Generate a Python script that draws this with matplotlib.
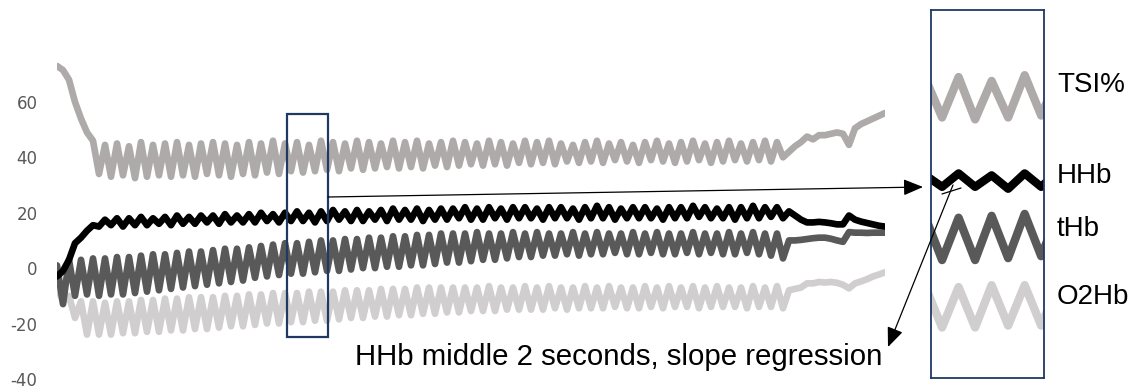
import numpy as np
import matplotlib
matplotlib.use("Agg")
import matplotlib.pyplot as plt
from matplotlib.patches import Rectangle, FancyArrowPatch

plt.rcParams["axes.unicode_minus"] = False

# ---- DATA (one value per half cycle) ----
# TSI%
tsi_head = [73, 71.5, 68, 60, 54, 49, 46]
tsi_troughs = [34, 33, 33.5, 32.5, 33, 33.5, 33, 33.5, 33, 34,
               33.5, 33, 34, 33.5, 34.5, 34, 35, 34.5, 35, 35.5,
               35, 36, 35.5, 36, 36.5, 36, 36.5, 36, 37, 36.5,
               37, 37.5, 37, 37.5, 37, 38, 37.5, 38, 37.5, 38.5,
               38, 38.5, 38, 39, 38.5, 38, 39, 38.5, 38, 38.5,
               39, 38, 38.5, 39, 38.5, 39, 38.5, 40]
tsi_peaks = [44.5, 45, 44, 45.5, 44.5, 45, 45.5, 44.5, 45, 45.5,
             45, 44.5, 45.5, 45, 46, 45, 45.5, 44.5, 46, 45.5,
             45, 46, 45.5, 45, 46, 45.5, 46, 45, 45.5, 46,
             45.5, 45, 46, 45.5, 45, 46, 45.5, 46, 45, 44.5,
             45.5, 46, 45, 45.5, 44.5, 45.5, 46, 45, 45.5, 46,
             45, 45.5, 46, 45, 45.5, 46, 45.5]
tsi_tail = [42, 44, 45.5, 47.5, 46.5, 48, 48, 48.5, 49, 48.5, 44.5, 50.5, 52, 53, 54, 55, 56]

# HHb
hhb_head = [-3, -1, 3, 9, 11, 13.5, 15.5]
hhb_troughs = [15, 15.5, 15, 15.5, 15.5, 16, 15.5, 16, 16, 16.5,
               16, 16.5, 16.5, 16.5, 17, 16.5, 17, 17, 16.5, 17,
               17.5, 17, 17, 17.5, 17, 17.5, 17.5, 17, 17.5, 17.5,
               18, 17.5, 17.5, 18, 17.5, 18, 18, 17.5, 18, 18,
               17.5, 18, 18, 17.5, 18, 18, 18, 17.5, 18, 18,
               18.5, 18, 18, 17.5, 18, 18, 18.5, 18]
hhb_peaks = [17.5, 18, 18, 18.5, 18, 18.5, 19, 18.5, 19, 19,
             19.5, 19, 19.5, 20, 19.5, 20, 20.5, 20, 20.5, 21,
             20.5, 21, 20.5, 21, 21.5, 21, 21.5, 21, 21.5, 21.5,
             22, 21.5, 22, 21.5, 22, 22, 21.5, 22, 22, 21.5,
             22, 22.5, 22, 21.5, 22, 22, 21.5, 22, 22, 22.5,
             22, 21.5, 22, 22, 22.5, 22, 22]
hhb_tail = [20.5, 19, 17.5, 16.5, 16.5, 16.7, 16.5, 16.2, 15.8, 15.8, 19, 17.5, 16.8, 16.3, 15.8, 15.3, 15]

# tHb
thb_head = [1, -13, 3, -10, 3, -9.5, 3.5]
thb_troughs = [-10, -9.5, -9.5, -9, -8.5, -8, -7.5, -7, -6.5, -6,
               -5.5, -5, -4.5, -3.5, -3, -2.5, -2, -2, -1.5, -1,
               -1, -0.5, 0, 0, 0.5, 0.5, 1, 1, 1.5, 2,
               2, 2.5, 3, 3, 3.5, 4, 4, 4.5, 4.5, 5,
               4.5, 5, 5, 5.5, 5, 5, 5.5, 5, 5, 5.5,
               5, 5.5, 5, 5, 5.5, 5, 4.5, 3.5]
thb_peaks = [3.5, 4, 4, 4.5, 5, 5, 5.5, 6, 6, 6.5,
             7, 7, 7.5, 8, 8.5, 9, 9, 9.5, 10, 10,
             10.5, 10.5, 11, 11, 11.5, 11.5, 12, 12, 12.5, 12.5,
             12.5, 13, 12.5, 12.5, 13, 12.5, 13, 12.5, 12.5, 13,
             12.5, 13, 12.5, 12.5, 13, 12.5, 13, 12.5, 12.5, 13,
             12.5, 12.5, 13, 12.5, 13, 12.5, 12.5]
thb_tail = [10, 10, 10.2, 10.5, 10.8, 11, 11, 10.6, 10, 9.5, 13, 12.8, 12.8, 12.7, 12.8, 12.8, 12.8]

# O2Hb
o2hb_head = [-7, -12, -10, -18, -12, -24, -12]
o2hb_troughs = [-24, -24, -23.5, -23.5, -23, -23, -22.5, -22.5, -22, -22,
                -21.5, -21, -21, -20.5, -20, -20, -19.5, -19.5, -19, -19,
                -18.5, -18, -18, -17.5, -17.5, -17, -17, -16.5, -16.5, -16,
                -16, -15.5, -15.5, -15.5, -15, -15, -15, -15, -14.5, -15,
                -14.5, -14.5, -14.5, -14, -14.5, -14.5, -14, -14.5, -14, -14,
                -14.5, -14, -14, -14, -14.5, -14, -14, -14.5]
o2hb_peaks = [-12.5, -12, -12, -11.5, -11.5, -11, -11, -10.5, -10.5, -10.5,
              -10, -10, -9.5, -9.5, -9, -9, -9, -8.5, -8.5, -8.5,
              -8, -8, -8, -7.5, -7.5, -7.5, -7, -7, -7, -7,
              -7, -7, -6.5, -7, -7, -6.5, -7, -6.5, -7, -7,
              -6.5, -7, -6.5, -7, -7, -6.5, -7, -6.5, -7, -6.5,
              -7, -6.5, -7, -7, -6.5, -7, -6.5]
o2hb_tail = [-8, -7.5, -7, -5.5, -5.5, -5, -5.2, -5, -5.3, -6, -7.3, -5.5, -4.8, -4, -3, -2.3, -1.5]

labels = ["TSI%", "HHb", "tHb", "O2Hb"]
yticks = [-40, -20, 0, 20, 40, 60]
box_range = (38.33, 45.17)   # samples covered by the zoom box


def zigzag(troughs, peaks):
    out = np.empty(len(troughs) + len(peaks))
    out[0::2] = troughs
    out[1::2] = peaks
    return out


def build(head, troughs, peaks, tail):
    return np.concatenate([head, zigzag(troughs, peaks), tail])


tsi = build(tsi_head, tsi_troughs, tsi_peaks, tsi_tail)
hhb = build(hhb_head, hhb_troughs, hhb_peaks, hhb_tail)
thb = build(thb_head, thb_troughs, thb_peaks, thb_tail)
o2hb = build(o2hb_head, o2hb_troughs, o2hb_peaks, o2hb_tail)
t = np.arange(len(tsi))

# draw order bottom -> top
series = [
    (o2hb, "#d0cece"),
    (tsi, "#aeaaaa"),
    (thb, "#595959"),
    (hhb, "#000000"),
]

W, H = 1146, 390
fig = plt.figure(figsize=(W / 100, H / 100), dpi=100)


def px(x0, y0, x1, y1):
    # pixel box (top-left origin) -> figure fraction rect
    return [x0 / W, 1 - y1 / H, (x1 - x0) / W, (y1 - y0) / H]


def fpt(x, y):
    # pixel point (top-left origin) -> figure fraction
    return (x / W, 1 - y / H)


navy = "#1f3864"

# ---- main chart ----
ax = fig.add_axes(px(57, 10, 885, 385))
for y, c in series:
    ax.plot(t, y, color=c, lw=4.8, solid_joinstyle="round", solid_capstyle="round")
ax.set_xlim(t[0], t[-1])
ax.set_ylim(-42.2, 93.2)
ax.set_yticks(yticks)
ax.set_xticks([])
ax.tick_params(axis="y", length=0, pad=14, labelsize=12, labelcolor="#595959")
for s in ax.spines.values():
    s.set_visible(False)
ax.add_patch(Rectangle((box_range[0], -24.8), box_range[1] - box_range[0], 80.5,
                       fill=False, edgecolor=navy, lw=1.6, zorder=5))

# ---- zoomed inset ----
axi = fig.add_axes(px(931, 10, 1044, 378))
for y, c in series:
    axi.plot(t, y, color=c, lw=6, solid_joinstyle="round", solid_capstyle="round")
axi.set_xlim(*box_range)
axi.set_ylim(-32.6, 62.9)
axi.set_xticks([])
axi.set_yticks([])
for s in axi.spines.values():
    s.set_color(navy)
    s.set_linewidth(1.3)

label_y = [85, 176, 229, 297]
for lab, yy in zip(labels, label_y):
    fig.text(*fpt(1057, yy), lab, fontsize=20, family="Liberation Sans",
             ha="left", va="center")

# ---- annotations on top of both axes ----
head = "-|>,head_length=0.6,head_width=0.25"
arrows = [((328, 197), (923, 187), head),
          ((953, 185), (888, 347), head),
          ((942, 194), (961, 188), "-")]
for a, b, style in arrows:
    fig.add_artist(FancyArrowPatch(fpt(*a), fpt(*b), transform=fig.transFigure,
                                   arrowstyle=style, mutation_scale=20,
                                   color="black", lw=0.9, shrinkA=0, shrinkB=0,
                                   zorder=10))
fig.text(*fpt(355, 357), "HHb middle 2 seconds, slope regression",
         fontsize=21.2, family="Liberation Sans", ha="left", va="center")

fig.savefig("out.png", dpi=100)
